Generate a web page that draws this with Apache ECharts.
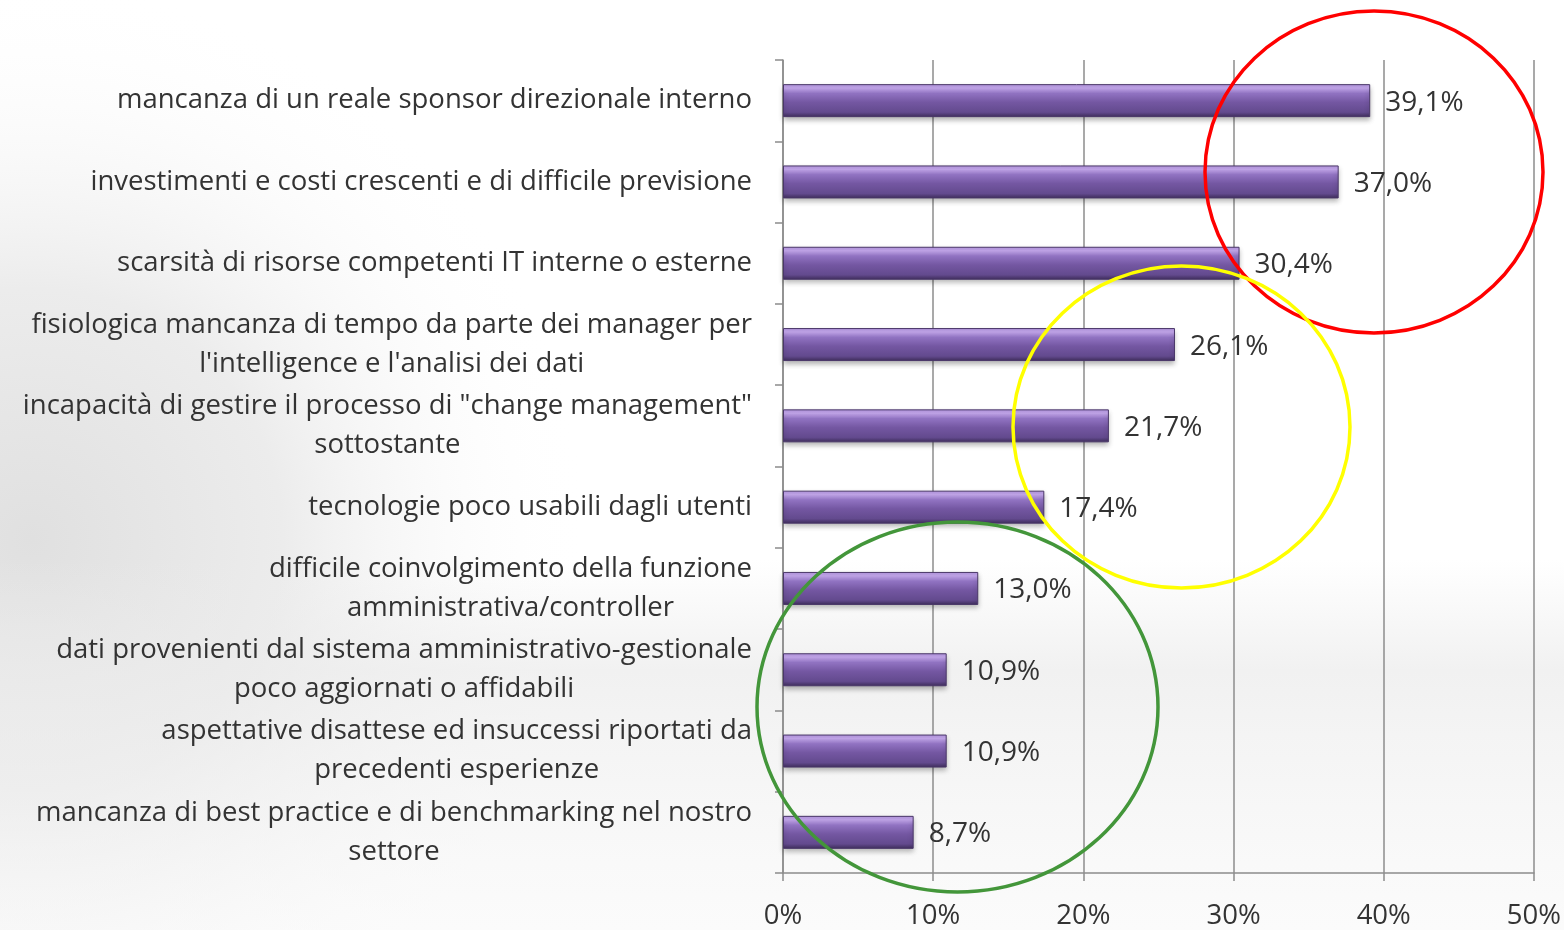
<!DOCTYPE html>
<html>
<head>
<meta charset="utf-8">
<script src="https://cdn.jsdelivr.net/npm/echarts@6/dist/echarts.min.js"></script>
<style>
  html, body { margin: 0; padding: 0; background: #fff; }
  #chart { width: 1564px; height: 930px; }
</style>
</head>
<body>
<div id="chart"></div>
<script>
// categories, top to bottom
const categories = [
  "mancanza di un reale sponsor direzionale interno",
  "investimenti e costi crescenti e di difficile previsione",
  "scarsità di risorse competenti IT interne o esterne",
  "fisiologica mancanza di tempo da parte dei manager per\nl'intelligence e l'analisi dei dati",
  "incapacità di gestire il processo di \"change management\"\nsottostante",
  "tecnologie poco usabili dagli utenti",
  "difficile coinvolgimento della funzione\namministrativa/controller",
  "dati provenienti dal sistema amministrativo-gestionale\npoco aggiornati o affidabili",
  "aspettative disattese ed insuccessi riportati da\nprecedenti esperienze",
  "mancanza di best practice e di benchmarking nel nostro\nsettore"
];
const values = [39.1, 37.0, 30.4, 26.1, 21.7, 17.4, 13.0, 10.9, 10.9, 8.7];
const xTicks = [0, 10, 20, 30, 40, 50];

const textColor = "#333333";
const fontFam = "'Open Sans', 'Noto Sans', sans-serif";

let chart = echarts.init(document.getElementById("chart"));

const barColor = new echarts.graphic.LinearGradient(0, 0, 0, 1, [
  { offset: 0, color: "#b294de" },
  { offset: 0.12, color: "#c7aaf0" },
  { offset: 0.28, color: "#9173c2" },
  { offset: 0.55, color: "#7457a2" },
  { offset: 0.85, color: "#634a8e" },
  { offset: 1, color: "#3e2d5a" }
]);

let option = {
  backgroundColor: "#ffffff",
  animation: false,
  grid: { left: 783, top: 60, width: 751, height: 814, containLabel: false },
  xAxis: {
    type: "value",
    min: 0,
    max: 50,
    interval: 10,
    axisLine: { show: true, lineStyle: { color: "#8c8c8c", width: 1.5 } },
    axisTick: { show: true, length: 8, lineStyle: { color: "#8c8c8c", width: 1.5 } },
    splitLine: { show: true, lineStyle: { color: "#8c8c8c", width: 1.5 } },
    axisLabel: {
      margin: 29,
      fontSize: 27.5,
      fontFamily: fontFam,
      color: textColor,
      formatter: (v) => (xTicks.indexOf(v) >= 0 ? v + "%" : "")
    }
  },
  yAxis: {
    type: "category",
    inverse: true,
    data: categories,
    axisLine: { show: true, lineStyle: { color: "#8c8c8c", width: 1.5 } },
    axisTick: { show: true, length: 8, lineStyle: { color: "#8c8c8c", width: 1.5 } },
    axisLabel: {
      margin: 31,
      fontSize: 27.5,
      fontFamily: fontFam,
      color: textColor,
      lineHeight: 39,
      formatter: (v) => v.split("\n").map((l) => "{c|" + l + "}").join("\n"),
      rich: {
        c: { align: "center", fontSize: 27.5, fontFamily: fontFam, color: textColor, lineHeight: 39 }
      }
    }
  },
  series: [
    {
      type: "bar",
      data: values,
      barWidth: 33,
      itemStyle: {
        color: barColor,
        borderColor: "#4a3768",
        borderWidth: 1,
        shadowColor: "rgba(0,0,0,0.3)",
        shadowBlur: 5,
        shadowOffsetY: 3
      },
      label: {
        show: true,
        position: "right",
        distance: 15,
        offset: [0, 2],
        fontSize: 28,
        fontFamily: fontFam,
        color: textColor,
        formatter: (p) => p.value.toFixed(1).replace(".", ",") + "%"
      }
    }
  ],
  graphic: [
    // soft grey swooshes of the slide background
    {
      type: "rect",
      z: -10,
      silent: true,
      shape: { x: 0, y: 0, width: 1564, height: 930 },
      style: {
        fill: new echarts.graphic.RadialGradient(0.02, 0.58, 0.6, [
          { offset: 0, color: "#e0e0e0" },
          { offset: 0.45, color: "#ececec" },
          { offset: 1, color: "rgba(255,255,255,0)" }
        ])
      }
    },
    {
      type: "rect",
      z: -10,
      silent: true,
      shape: { x: 0, y: 560, width: 1564, height: 370 },
      style: {
        fill: new echarts.graphic.LinearGradient(0, 0, 0, 1, [
          { offset: 0, color: "rgba(235,235,235,0)" },
          { offset: 0.3, color: "rgba(235,235,235,0.7)" },
          { offset: 1, color: "rgba(245,245,245,0.4)" }
        ])
      }
    },
    {
      type: "ellipse",
      z: 100,
      shape: { cx: 1374, cy: 172, rx: 169, ry: 161 },
      style: { fill: null, stroke: "#ff0000", lineWidth: 3.5 }
    },
    {
      type: "ellipse",
      z: 100,
      shape: { cx: 1181.5, cy: 427, rx: 168.5, ry: 161 },
      style: { fill: null, stroke: "#ffff00", lineWidth: 3.5 }
    },
    {
      type: "ellipse",
      z: 100,
      shape: { cx: 957.5, cy: 707, rx: 200.5, ry: 185 },
      style: { fill: null, stroke: "#43963a", lineWidth: 3.5 }
    }
  ]
};

chart.setOption(option);
</script>
</body>
</html>
